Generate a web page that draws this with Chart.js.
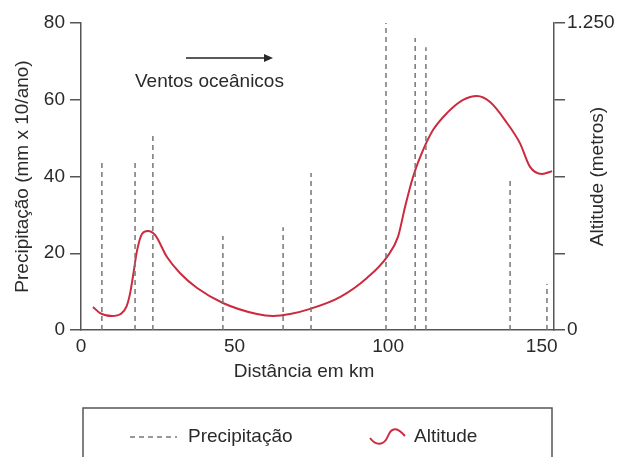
<!DOCTYPE html>
<html>
<head>
<meta charset="utf-8">
<script src="https://cdn.jsdelivr.net/npm/chart.js@4"></script>
<style>
  html, body { margin: 0; padding: 0; background: #fff; }
  #wrap { width: 621px; height: 457px; }
</style>
</head>
<body>
<div id="wrap"><canvas id="chart"></canvas></div>
<script>
// distancia (km) das medicoes de precipitacao e valores (mm x 10/ano)
const distPrecip = [6.8, 17.6, 23.4, 46.2, 65.8, 74.9, 99.3, 108.8, 112.3, 139.7, 151.7];
const precip = [43.5, 43.5, 50.8, 24.5, 26.8, 40.9, 80, 76.1, 73.7, 39.6, 12];

// perfil de altitude (metros)
const distAlt = [3.9, 6.2, 10.1, 13.0, 14.8, 16.0, 17.0, 18.2, 19.9, 21.8, 24.1, 28.0, 32.2, 37.8, 46.2, 57.3, 62.5, 68.1, 74.6, 84.3, 93.1, 99.6, 103.2, 105.5, 108.1, 111.4, 114.6, 119.2, 124.4, 128.9, 133.2, 138.7, 142.9, 146.2, 150.1, 153.4];
const altitude = [94, 69, 57, 66, 95, 150, 225, 320, 392, 403, 387, 297, 232, 171, 110, 65, 57, 65, 86, 134, 212, 297, 379, 501, 623, 733, 814, 884, 937, 953, 928, 843, 761, 664, 635, 647];

const xTicks = [0, 50, 100, 150];
const precipTicks = [0, 20, 40, 60, 80];
const altTicks = [0, 312.5, 625, 937.5, 1250];

const FONT = 'Liberation Sans, Arial, sans-serif';
const FS = 19;
const TXT = '#2a2a2a';
const AXIS = '#555';

const ctx = document.getElementById('chart');

// cada linha tracejada vai de 0 ate o valor, separadas por null
const precipData = distPrecip.flatMap((x, i) => [
  {x: x, y: 0}, {x: x, y: precip[i]}, {x: x, y: null}
]);
const altData = distAlt.map((x, i) => ({x: x, y: altitude[i]}));

const extras = {
  id: 'extras',
  afterDraw(chart) {
    const c = chart.ctx;
    const a = chart.chartArea;
    c.save();
    c.fillStyle = TXT;
    c.strokeStyle = '#222';
    c.font = FS + 'px ' + FONT;

    // seta e texto "Ventos oceanicos"
    c.lineWidth = 1.5;
    c.beginPath();
    c.moveTo(186, 58);
    c.lineTo(266, 58);
    c.stroke();
    c.beginPath();
    c.moveTo(273, 58);
    c.lineTo(264, 54);
    c.lineTo(264, 62);
    c.closePath();
    c.fill();
    c.textAlign = 'left';
    c.textBaseline = 'middle';
    c.fillText('Ventos oceânicos', 135, 82);

    // titulo do eixo x
    c.textAlign = 'center';
    c.fillText('Distância em km', 304, 372);

    // titulo do eixo direito
    c.save();
    c.translate(598, (a.top + a.bottom) / 2);
    c.rotate(-Math.PI / 2);
    c.fillText('Altitude (metros)', 0, 0);
    c.restore();

    // legenda
    c.textAlign = 'left';
    c.strokeStyle = AXIS;
    c.lineWidth = 1.5;
    c.strokeRect(83, 408, 469, 60);
    c.strokeStyle = '#777';
    c.setLineDash([5, 4]);
    c.beginPath();
    c.moveTo(130, 437);
    c.lineTo(177, 437);
    c.stroke();
    c.setLineDash([]);
    c.fillText('Precipitação', 188, 437);
    c.strokeStyle = '#cc2a3e';
    c.lineWidth = 2;
    c.beginPath();
    c.moveTo(370, 438);
    c.bezierCurveTo(376, 446, 384, 446, 388, 436);
    c.bezierCurveTo(392, 426, 398, 428, 405, 436);
    c.stroke();
    c.fillText('Altitude', 414, 437);
    c.restore();
  }
};

new Chart(ctx, {
  data: {
    datasets: [{
      type: 'line',
      label: 'Precipitação',
      data: precipData,
      borderColor: '#777',
      borderWidth: 1.5,
      borderDash: [5, 4],
      pointRadius: 0,
      tension: 0,
      spanGaps: false,
      yAxisID: 'y'
    }, {
      type: 'line',
      label: 'Altitude',
      data: altData,
      borderColor: '#cc2a3e',
      borderWidth: 2,
      pointRadius: 0,
      cubicInterpolationMode: 'monotone',
      yAxisID: 'y1'
    }]
  },
  options: {
    responsive: true,
    maintainAspectRatio: false,
    animation: false,
    layout: { padding: { top: 23 } },
    plugins: { legend: { display: false }, tooltip: { enabled: false } },
    scales: {
      x: {
        type: 'linear',
        min: 0,
        max: 154,
        afterBuildTicks: s => { s.ticks = xTicks.map(v => ({value: v})); },
        afterFit: s => { s.height = 127; },
        grid: { drawOnChartArea: false, drawTicks: false },
        border: { color: AXIS, width: 1.5 },
        ticks: { color: TXT, font: { family: FONT, size: FS }, padding: 5 }
      },
      y: {
        position: 'left',
        min: 0,
        max: 80,
        afterBuildTicks: s => { s.ticks = precipTicks.map(v => ({value: v})); },
        afterFit: s => { s.width = 81; },
        grid: { drawOnChartArea: false, tickLength: 11, color: AXIS, lineWidth: 1.5 },
        border: { color: AXIS, width: 1.5 },
        ticks: { color: TXT, font: { family: FONT, size: FS }, padding: 5 },
        title: { display: true, text: 'Precipitação (mm x 10/ano)', color: TXT, font: { family: FONT, size: FS }, padding: { top: 11, bottom: 0 } }
      },
      y1: {
        position: 'right',
        min: 0,
        max: 1250,
        afterBuildTicks: s => { s.ticks = altTicks.map(v => ({value: v})); },
        afterFit: s => { s.width = 67; },
        grid: { drawOnChartArea: false, tickLength: 11, color: AXIS, lineWidth: 1.5 },
        border: { color: AXIS, width: 1.5 },
        ticks: {
          color: TXT,
          font: { family: FONT, size: FS },
          padding: 2,
          callback: v => v === 0 ? '0' : (v === 1250 ? '1.250' : '')
        }
      }
    }
  },
  plugins: [extras]
});
</script>
</body>
</html>
